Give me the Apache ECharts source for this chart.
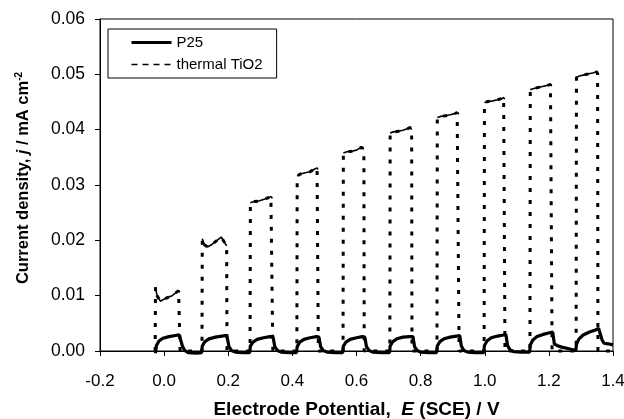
<!DOCTYPE html>
<html>
<head>
<meta charset="utf-8">
<script src="https://cdn.jsdelivr.net/npm/echarts@6/dist/echarts.min.js"></script>
<style>
  html, body { margin: 0; padding: 0; background: #fff; }
  #chart { width: 624px; height: 419px; }
</style>
</head>
<body>
<div id="chart"></div>
<script>
// axis ticks
const xTicks = [-0.2, 0.0, 0.2, 0.4, 0.6, 0.8, 1.0, 1.2, 1.4];
const yTicks = [0.00, 0.01, 0.02, 0.03, 0.04, 0.05, 0.06];

// P25, [E (V), j (mA cm-2)]
const p25 = [
  [-0.027, -0.0004], [-0.024, 0.0010], [-0.016, 0.0018], [-0.004, 0.0023], [0.015, 0.0026], [0.035, 0.0028], [0.047, 0.0029],
  [0.052, 0.0026], [0.057, 0.0009], [0.064, 0.0001], [0.075, -0.0003], [0.100, -0.0004], [0.117, -0.0003],
  [0.119, 0.0009], [0.127, 0.0017], [0.140, 0.0022], [0.160, 0.0025], [0.180, 0.0027], [0.192, 0.0028],
  [0.197, 0.0024], [0.202, 0.0008], [0.210, 0.0001], [0.222, -0.0002], [0.245, -0.0003], [0.267, -0.0003],
  [0.269, 0.0009], [0.277, 0.0016], [0.290, 0.0021], [0.310, 0.0024], [0.330, 0.0026], [0.340, 0.0025],
  [0.345, 0.0008], [0.353, 0.0001], [0.365, -0.0002], [0.390, -0.0003], [0.413, -0.0003],
  [0.415, 0.0008], [0.423, 0.0016], [0.436, 0.0021], [0.455, 0.0024], [0.475, 0.0026], [0.483, 0.0025],
  [0.488, 0.0008], [0.496, 0.0001], [0.508, -0.0002], [0.535, -0.0003], [0.557, -0.0003],
  [0.559, 0.0009], [0.567, 0.0016], [0.580, 0.0021], [0.600, 0.0024], [0.618, 0.0026], [0.626, 0.0025],
  [0.631, 0.0008], [0.639, 0.0001], [0.651, -0.0002], [0.680, -0.0003], [0.703, -0.0003],
  [0.705, 0.0009], [0.713, 0.0017], [0.726, 0.0022], [0.745, 0.0025], [0.765, 0.0026], [0.776, 0.0026],
  [0.781, 0.0008], [0.789, 0.0001], [0.800, -0.0002], [0.825, -0.0003], [0.850, -0.0003],
  [0.852, 0.0009], [0.860, 0.0017], [0.873, 0.0022], [0.892, 0.0025], [0.912, 0.0027], [0.922, 0.0028],
  [0.927, 0.0009], [0.935, 0.0001], [0.947, -0.0002], [0.972, -0.0003], [0.997, -0.0003],
  [0.999, 0.0010], [1.007, 0.0018], [1.020, 0.0024], [1.040, 0.0027], [1.058, 0.0029], [1.066, 0.0030],
  [1.071, 0.0010], [1.079, 0.0002], [1.090, -0.0001], [1.115, -0.0002], [1.140, -0.0002],
  [1.142, 0.0011], [1.150, 0.0020], [1.163, 0.0026], [1.182, 0.0030], [1.202, 0.0033], [1.212, 0.0034],
  [1.217, 0.0013], [1.225, 0.0010], [1.240, 0.0007], [1.262, 0.0004], [1.284, 0.0001],
  [1.286, 0.0012], [1.294, 0.0022], [1.307, 0.0029], [1.325, 0.0034], [1.345, 0.0038], [1.355, 0.0041],
  [1.360, 0.0039], [1.366, 0.0020], [1.372, 0.0014], [1.385, 0.0013], [1.400, 0.0011]
];

// thermal TiO2
const thermal = [
  [-0.028, 0], [-0.027, 0.0115], [-0.022, 0.0100], [-0.012, 0.0090], [-0.002, 0.0093], [0.012, 0.0097],
  [0.025, 0.0100], [0.038, 0.0106], [0.045, 0.0109], [0.049, 0.0106], [0.050, 0],
  [0.118, 0], [0.119, 0.0203], [0.126, 0.0192], [0.135, 0.0188], [0.150, 0.0193], [0.165, 0.0200],
  [0.178, 0.0206], [0.184, 0.0208], [0.195, 0.0190], [0.196, 0],
  [0.268, 0], [0.269, 0.0268], [0.280, 0.0270], [0.295, 0.0271], [0.310, 0.0274], [0.325, 0.0277],
  [0.333, 0.0279], [0.338, 0.0276], [0.339, 0],
  [0.414, 0], [0.415, 0.0316], [0.425, 0.0320], [0.440, 0.0322], [0.455, 0.0324], [0.470, 0.0329],
  [0.477, 0.0331], [0.480, 0.0328], [0.481, 0],
  [0.558, 0], [0.559, 0.0358], [0.570, 0.0360], [0.585, 0.0361], [0.600, 0.0363], [0.615, 0.0368],
  [0.621, 0.0369], [0.623, 0.0365], [0.624, 0],
  [0.704, 0], [0.705, 0.0394], [0.715, 0.0396], [0.730, 0.0397], [0.745, 0.0399], [0.760, 0.0402],
  [0.768, 0.0404], [0.772, 0.0400], [0.773, 0],
  [0.851, 0], [0.852, 0.0422], [0.862, 0.0424], [0.877, 0.0425], [0.892, 0.0427], [0.906, 0.0429],
  [0.914, 0.0431], [0.919, 0.0428], [0.920, 0],
  [0.998, 0], [0.999, 0.0449], [1.010, 0.0451], [1.025, 0.0452], [1.040, 0.0454], [1.052, 0.0456],
  [1.059, 0.0458], [1.062, 0.0455], [1.063, 0],
  [1.141, 0], [1.142, 0.0472], [1.150, 0.0474], [1.165, 0.0476], [1.180, 0.0478], [1.195, 0.0480],
  [1.205, 0.0482], [1.209, 0.0479], [1.210, 0],
  [1.285, 0], [1.286, 0.0494], [1.295, 0.0497], [1.310, 0.0499], [1.325, 0.0501], [1.340, 0.0503],
  [1.348, 0.0505], [1.352, 0.0501], [1.353, 0], [1.400, 0]
];

// the lit plateaus look solid in the original, the dark/transition parts dotted
const thermalTops = thermal.map(p => (p[1] > 0 ? p : [p[0], null]));

const font = 'Liberation Sans, Arial, sans-serif';
const chart = echarts.init(document.getElementById('chart'));

const option = {
  backgroundColor: '#fff',
  animation: false,
  color: ['#000', '#000', '#000'],
  grid: {
    left: 100, right: 11, top: 19, bottom: 68,
    outerBoundsMode: 'none',
    show: true, borderColor: '#000', borderWidth: 1
  },
  legend: {
    orient: 'vertical',
    left: 108, top: 29,
    padding: [6, 14, 6, 22],
    itemGap: 7,
    itemWidth: 40, itemHeight: 14,
    backgroundColor: '#fff',
    borderColor: '#000', borderWidth: 1, borderRadius: 0,
    data: [
      { name: 'P25', lineStyle: { width: 3 } },
      { name: 'thermal TiO2', lineStyle: { width: 1.6, type: [6, 5] } }
    ],
    itemStyle: { opacity: 0 },
    textStyle: { color: '#000', fontFamily: font, fontSize: 15 }
  },
  xAxis: {
    type: 'value',
    min: xTicks[0], max: xTicks[xTicks.length - 1], interval: 0.2,
    name: 'Electrode Potential,  {it|E} (SCE) / V',
    nameLocation: 'middle', nameGap: 49,
    nameTextStyle: {
      color: '#000', fontFamily: font, fontSize: 19, fontWeight: 'bold',
      rich: { it: { fontFamily: font, fontSize: 19, fontWeight: 'bold', fontStyle: 'italic', color: '#000' } }
    },
    axisLine: { onZero: false, lineStyle: { color: '#000', width: 1 } },
    axisTick: { show: true, length: 5, lineStyle: { color: '#000' } },
    axisLabel: { color: '#000', fontFamily: font, fontSize: 17, margin: 22, formatter: v => v.toFixed(1) },
    splitLine: { show: false }
  },
  yAxis: {
    type: 'value',
    min: yTicks[0], max: yTicks[yTicks.length - 1], interval: 0.01,
    name: 'Current density, {it|j} / mA cm{sup|-2}',
    nameLocation: 'middle', nameGap: 68,
    nameTextStyle: {
      color: '#000', fontFamily: font, fontSize: 16.5, fontWeight: 'bold',
      padding: [0, 0, 0, 14],
      rich: {
        it: { fontFamily: font, fontSize: 16.5, fontWeight: 'bold', fontStyle: 'italic', color: '#000' },
        sup: { fontFamily: font, fontSize: 10, fontWeight: 'bold', color: '#000', verticalAlign: 'top', padding: [0, 0, 8, 0] }
      }
    },
    axisLine: { show: true, onZero: false, lineStyle: { color: '#000', width: 1 } },
    axisTick: { show: true, length: 5, lineStyle: { color: '#000' } },
    axisLabel: { color: '#000', fontFamily: font, fontSize: 17.5, margin: 15, formatter: v => v.toFixed(2) },
    splitLine: { show: false }
  },
  series: [
    {
      name: 'thermal TiO2',
      type: 'line',
      data: thermal,
      symbol: 'none',
      clip: false,
      itemStyle: { color: '#000' },
      lineStyle: { color: '#000', width: 3, type: [4, 8] }
    },
    {
      name: 'thermal TiO2',
      type: 'line',
      data: thermalTops,
      symbol: 'none',
      connectNulls: false,
      clip: false,
      itemStyle: { color: '#000' },
      lineStyle: { color: '#000', width: 1.6 }
    },
    {
      name: 'P25',
      type: 'line',
      data: p25,
      symbol: 'none',
      clip: false,
      itemStyle: { color: '#000' },
      lineStyle: { color: '#000', width: 3.2 }
    }
  ]
};

chart.setOption(option);
</script>
</body>
</html>
